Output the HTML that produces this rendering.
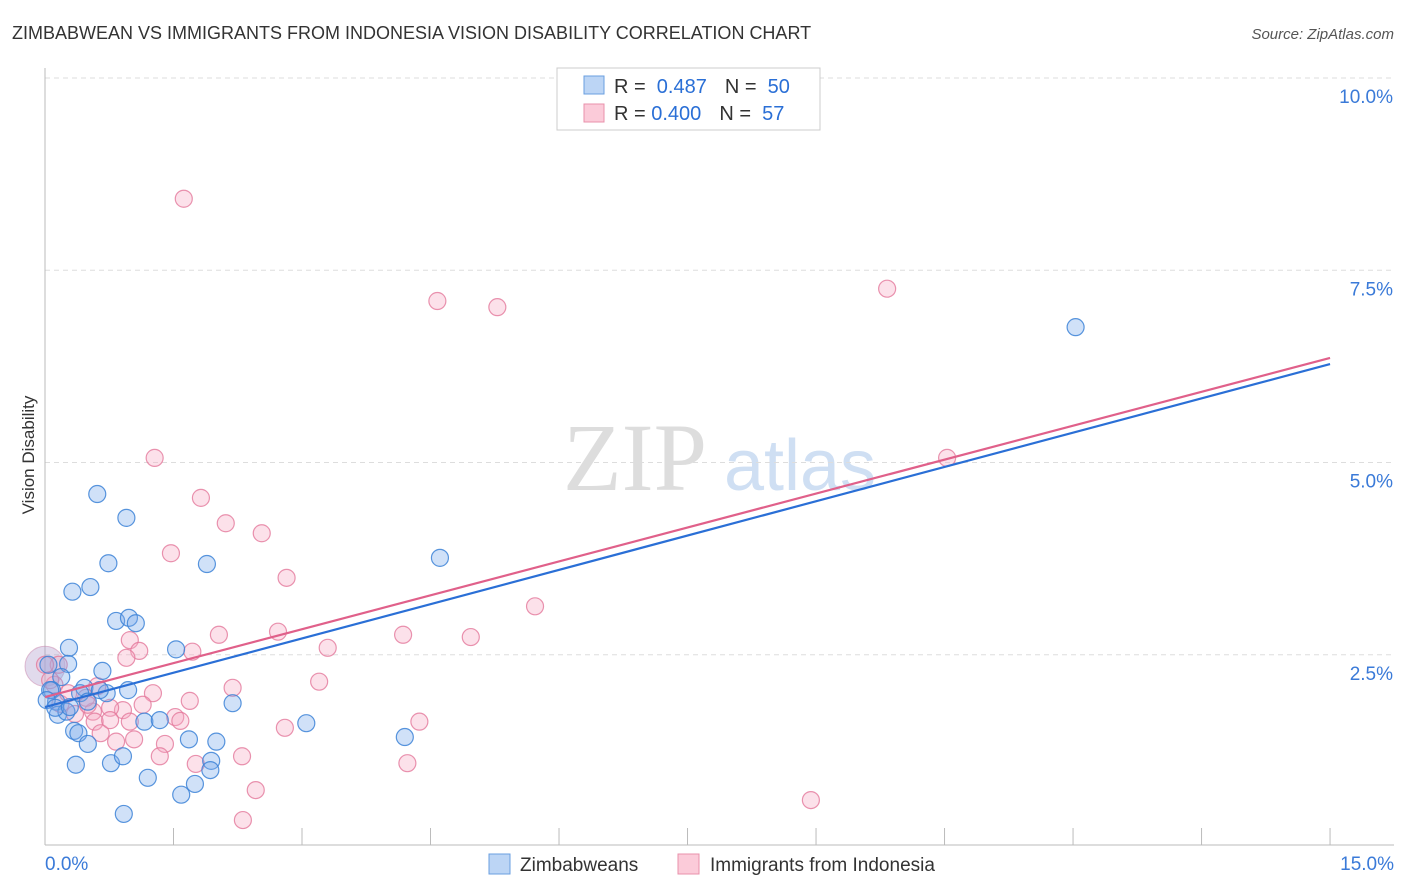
<!DOCTYPE html>
<html><head><meta charset="utf-8"><style>
body{margin:0;background:#fff;font-family:"Liberation Sans",sans-serif}
svg{display:block}
</style></head><body>
<svg id="chart" width="1406" height="892" font-family="Liberation Sans, sans-serif">
<text x="12" y="39" font-size="18" fill="#333">ZIMBABWEAN VS IMMIGRANTS FROM INDONESIA VISION DISABILITY CORRELATION CHART</text>
<text x="1394" y="39" font-size="15" fill="#555" font-style="italic" text-anchor="end">Source: ZipAtlas.com</text>
<text x="34" y="455" font-size="17" fill="#333" text-anchor="middle" transform="rotate(-90 34 455)">Vision Disability</text>
<g>
<text x="635" y="490" font-size="96" fill="#ddd" font-family="Liberation Serif, serif" text-anchor="middle">ZIP</text>
<text x="800" y="490" font-size="72" fill="#cfdff3" text-anchor="middle">atlas</text>
</g>
<g id="grid"></g>
<g id="axes"></g>
<g id="points"></g>
<g id="trends"></g>
<g>
<rect x="557" y="68" width="263" height="62" fill="#fff" stroke="#ccc"/>
<rect x="584" y="76" width="20" height="18" fill="#bcd5f5" stroke="#6a9fe0"/>
<text x="614" y="93" font-size="20" fill="#333">R = <tspan fill="#2a6fd6">&#160;0.487</tspan><tspan dx="18">N = </tspan><tspan fill="#2a6fd6">&#160;50</tspan></text>
<rect x="584" y="104" width="20" height="18" fill="#fbcbd9" stroke="#e890ab"/>
<text x="614" y="120" font-size="20" fill="#333">R = <tspan fill="#2a6fd6">0.400</tspan><tspan dx="18">N = </tspan><tspan fill="#2a6fd6">&#160;57</tspan></text>
</g>
<g>
<rect x="489" y="854" width="21" height="20" fill="#bcd5f5" stroke="#6a9fe0"/>
<text x="520" y="871" font-size="19" fill="#333">Zimbabweans</text>
<rect x="678" y="854" width="21" height="20" fill="#fbcbd9" stroke="#e890ab"/>
<text x="710" y="871" font-size="19" fill="#333">Immigrants from Indonesia</text>
</g>
</svg>
<script>
const blueX=[0.61,0.95,0.74,1.89,0.32,0.53,0.83,0.98,1.06,0.28,1.53,0.27,0.67,0.19,0.08,0.46,0.41,0.72,0.97,0.50,0.13,0.15,0.25,0.34,0.39,0.50,2.19,3.05,4.20,1.68,2.00,1.16,0.36,0.77,0.91,1.94,1.93,1.20,1.75,1.59,0.92,4.61,12.03,0.04,0.06,0.02,0.12,0.29,0.64,1.34];
const blueY=[4.59,4.28,3.69,3.68,3.32,3.38,2.94,2.98,2.91,2.59,2.57,2.38,2.29,2.21,2.04,2.07,2.00,2.00,2.04,1.89,1.89,1.72,1.76,1.51,1.48,1.34,1.87,1.61,1.43,1.40,1.37,1.63,1.07,1.09,1.18,1.12,1.00,0.90,0.82,0.68,0.43,3.76,6.76,2.37,2.04,1.91,1.81,1.82,2.04,1.65];
const pinkX=[1.62,4.58,5.28,9.83,10.53,1.28,1.82,2.11,2.53,1.47,2.82,5.72,0.99,1.10,2.03,1.72,2.72,4.18,4.97,3.30,0.95,0.16,0.11,0.61,1.26,2.19,3.20,1.69,1.14,0.91,0.56,0.76,0.48,1.52,1.58,0.58,0.99,2.80,4.37,0.65,0.83,1.04,1.40,1.34,2.30,1.76,4.23,2.46,2.31,8.94,0.18,0.35,0.06,0.27,0.00,0.50,0.76];
const pinkY=[8.43,7.10,7.02,7.26,5.06,5.06,4.54,4.21,4.08,3.82,3.50,3.13,2.69,2.55,2.76,2.54,2.80,2.76,2.73,2.59,2.46,2.37,2.11,2.09,2.00,2.07,2.15,1.90,1.85,1.78,1.76,1.81,1.94,1.69,1.64,1.63,1.63,1.55,1.63,1.48,1.37,1.40,1.34,1.18,1.18,1.08,1.09,0.74,0.35,0.61,1.86,1.73,2.17,2.00,2.37,1.85,1.65];
const blueTrend=[1.82,6.28];
const pinkTrend=[1.95,6.36];
const yTicks=[2.5,5.0,7.5,10.0];
const xTicks=[0,1.5,3,4.5,6,7.5,9,10.5,12,13.5,15];
const NS='http://www.w3.org/2000/svg';
const sx=v=>45+v*85.67, sy=v=>847-v*76.9;
function mk(tag,attrs,parent){const e=document.createElementNS(NS,tag);for(const k in attrs)e.setAttribute(k,attrs[k]);parent.appendChild(e);return e;}
const grid=document.getElementById('grid'),axes=document.getElementById('axes'),pts=document.getElementById('points'),tr=document.getElementById('trends');
yTicks.forEach(t=>{
 const l=mk('line',{x1:45,x2:1394,y1:sy(t),y2:sy(t),stroke:'#ddd','stroke-dasharray':'5,4'},grid);
 
 
 const tx=mk('text',{x:1393,y:sy(t)+25,'font-size':19,fill:'#3a7ad8','text-anchor':'end'},axes);
 tx.textContent=t.toFixed(1)+'%';
 
 
});
const ax=mk('line',{x1:45,x2:1394,y1:845,y2:845,stroke:'#bbb'},axes);


const ay=mk('line',{x1:45,x2:45,y1:68,y2:845,stroke:'#bbb'},axes);


xTicks.forEach((t,i)=>{
 if(i>0){const tk=mk('line',{x1:sx(t),x2:sx(t),y1:828,y2:845,stroke:'#bbb'},axes);
 
 }
});
[[0,'start',45],[15,'end',1394]].forEach(a=>{
 const tx=mk('text',{x:a[2],y:870,'font-size':19,fill:'#3a7ad8','text-anchor':a[1]},axes);
 tx.textContent=a[0].toFixed(1)+'%';
 
 
});
mk('circle',{cx:sx(0),cy:sy(2.35),r:20,fill:'rgba(170,150,200,0.35)',stroke:'rgba(200,130,170,0.5)'},pts);
function plot(X,Y,fill,stroke,name){X.forEach((x,i)=>{
 const c=mk('circle',{cx:sx(x),cy:sy(Y[i]),r:8.5,fill:fill,stroke:stroke,'stroke-width':1.2},pts);
 
 
});}
plot(pinkX,pinkY,'rgba(246,170,195,0.35)','rgba(228,120,155,0.8)','indonesia-point');
plot(blueX,blueY,'rgba(120,170,235,0.35)','rgba(60,130,215,0.85)','zimbabwean-point');
const bl=mk('line',{x1:sx(0),y1:sy(blueTrend[0]),x2:sx(15),y2:sy(blueTrend[1]),stroke:'#2a6fd6','stroke-width':2.2},tr);


const pl=mk('line',{x1:sx(0),y1:sy(pinkTrend[0]),x2:sx(15),y2:sy(pinkTrend[1]),stroke:'#e0608a','stroke-width':2.2},tr);


</script>
</body></html>
